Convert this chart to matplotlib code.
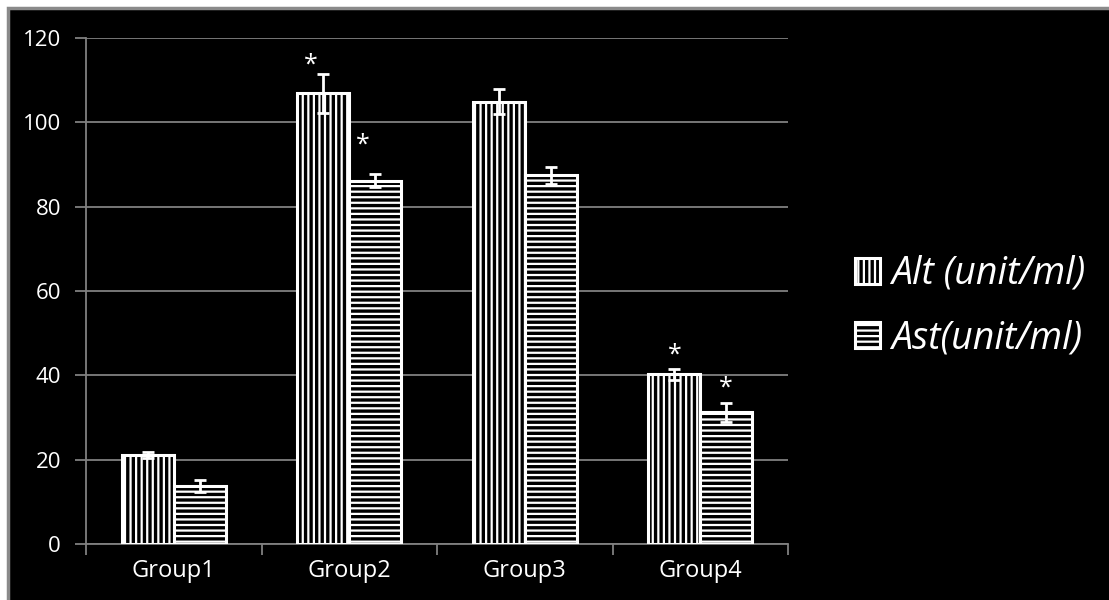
import numpy as np
import matplotlib.pyplot as plt
from matplotlib.patches import Rectangle

plt.rcParams['font.family'] = ['Open Sans', 'DejaVu Sans']
plt.rcParams['hatch.color'] = 'white'
plt.rcParams['hatch.linewidth'] = 1.6

groups = ['Group1', 'Group2', 'Group3', 'Group4']
alt_vals = [21.2, 106.9, 104.9, 40.2]
alt_err = [0.7, 4.6, 3.0, 1.3]
ast_vals = [13.8, 86.2, 87.4, 31.2]
ast_err = [1.4, 1.5, 2.0, 2.2]
series_names = ['Alt (unit/ml)', 'Ast(unit/ml)']
yticks = [0, 20, 40, 60, 80, 100, 120]

# significance marks: (group index, series, y of star)
stars = [(1, 0, 113.6), (1, 1, 94.6), (3, 0, 44.8), (3, 1, 37.0)]
star_dx = [-0.07, -0.07, 0.0, 0.0]

fig = plt.figure(figsize=(11.09, 6.0), dpi=100, facecolor='white')
# black chart area with grey frame on the left/top
fig.patches.append(Rectangle((7.5 / 1109, -0.05), 1.1, 1.05 - 7.5 / 600, transform=fig.transFigure,
                             facecolor='black', edgecolor='#8a8a8a', linewidth=2.5, zorder=-5))

ax = fig.add_axes([86 / 1109, 56 / 600, (788 - 86) / 1109, (544 - 38) / 600])
ax.set_facecolor('black')

x = np.arange(len(groups))
w = 0.295
b1 = ax.bar(x - w / 2, alt_vals, w, facecolor='black', edgecolor='white', linewidth=2.2,
            hatch='|||', label=series_names[0], zorder=3)
b2 = ax.bar(x + w / 2, ast_vals, w, facecolor='black', edgecolor='white', linewidth=2.2,
            hatch='---', label=series_names[1], zorder=3)
ax.errorbar(x - w / 2, alt_vals, yerr=alt_err, fmt='none', ecolor='white', elinewidth=2,
            capsize=4.3, capthick=2, zorder=4)
ax.errorbar(x + w / 2, ast_vals, yerr=ast_err, fmt='none', ecolor='white', elinewidth=2,
            capsize=4.3, capthick=2, zorder=4)

for (g, s, y), dx in zip(stars, star_dx):
    xs = x[g] + (-w / 2 if s == 0 else w / 2) + dx
    ax.text(xs, y, '*', color='white', fontsize=18, ha='center', va='center', zorder=5)

ax.set_xlim(-0.5, 3.5)
ax.set_ylim(0, 120)
ax.set_yticks(yticks)
ax.set_xticks(x)
ax.set_xticklabels(groups)
ax.set_xticks(np.arange(-0.5, 3.6, 1), minor=True)
ax.grid(axis='y', color='#808080', linewidth=1.3, zorder=1)
ax.set_axisbelow(True)

for side in ['top', 'right']:
    ax.spines[side].set_visible(False)
for side in ['left', 'bottom']:
    ax.spines[side].set_color('#808080')
    ax.spines[side].set_linewidth(1.3)

ax.tick_params(axis='y', colors='#808080', length=8, width=1.3, pad=10)
ax.tick_params(axis='x', which='major', length=0, pad=11)
ax.tick_params(axis='x', which='minor', colors='#808080', length=8, width=1.3)
for lab in ax.get_yticklabels():
    lab.set_fontsize(16)
    lab.set_color('white')
for lab in ax.get_xticklabels():
    lab.set_fontsize(17)
    lab.set_color('white')

leg = fig.legend(handles=[b1, b2], loc='center left', bbox_to_anchor=(836 / 1109, 0.49),
                 frameon=False, borderpad=0, labelspacing=0.7, handlelength=0.68,
                 handleheight=0.68, handletextpad=0.3, prop={'size': 27, 'style': 'italic'})
for t in leg.get_texts():
    t.set_color('white')

fig.savefig('out.png', dpi=100, facecolor=fig.get_facecolor())
